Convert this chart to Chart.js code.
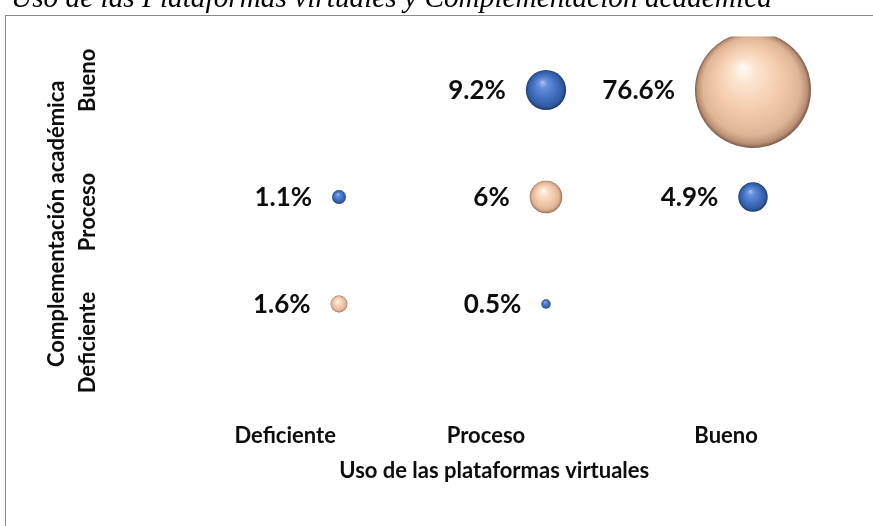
<!DOCTYPE html>
<html><head><meta charset="utf-8">
<script src="https://cdn.jsdelivr.net/npm/chart.js@4/dist/chart.umd.min.js"></script>
<style>html,body{margin:0;padding:0;background:#fff;overflow:hidden}#wrap{width:873px;height:526px;position:relative}</style>
</head><body><div id="wrap"><canvas id="c" width="873" height="526"></canvas></div>
<script>
const chartTitle = 'Uso de las Plataformas virtuales y Complementación académica';
const xAxisTitle = 'Uso de las plataformas virtuales';
const yAxisTitle = 'Complementación académica';
const levels = ['Deficiente', 'Proceso', 'Bueno'];
// where each level's text label sits along its axis (axis units)
const xLabelAt = [0.74, 1.71, 2.87];
const yLabelAt = [0.64, 1.86, 3.09];
// series 1 (blue): x level, y level, percentage
const blueX = [2, 1, 3, 2];
const blueY = [3, 2, 2, 1];
const bluePct = [9.2, 1.1, 4.9, 0.5];
// series 2 (peach)
const peachX = [3, 2, 1];
const peachY = [3, 2, 1];
const peachPct = [76.6, 6, 1.6];

const FONT = "Lato, 'Open Sans', sans-serif";
Chart.defaults.font.family = FONT;
const R = v => 6.63 * Math.sqrt(v);

function sphere(stops, flat) {
  return (c) => {
    if (!c.raw || !c.chart.chartArea) return flat;
    const ch = c.chart, sx = ch.scales.x, sy = ch.scales.y;
    if (!sx || !sy) return flat;
    const px = sx.getPixelForValue(c.raw.x), py = sy.getPixelForValue(c.raw.y);
    const r = R(c.raw.v);
    if (!isFinite(px) || !isFinite(py) || !isFinite(r)) return flat;
    const g = ch.ctx.createRadialGradient(px - 0.18 * r, py - 0.4 * r, 0, px, py, r);
    stops.forEach(([o, col]) => g.addColorStop(o, col));
    return g;
  };
}
const blueStops = [[0, '#A9C3EE'], [0.22, '#6590DA'], [0.6, '#4170C2'], [0.88, '#30599F'], [1, '#1E3766']];
const peachStops = [[0, '#FFFDF6'], [0.2, '#FCE5D0'], [0.55, '#F3CBAC'], [0.84, '#E0B596'], [0.95, '#B88E74'], [1, '#7A5A48']];

const mk = (xs, ys, ps) => xs.map((x, i) => ({ x, y: ys[i], v: ps[i] }));

const frame = {
  id: 'frame',
  beforeDraw(chart) {
    const ctx = chart.ctx;
    ctx.save();
    ctx.fillStyle = '#fff';
    ctx.fillRect(0, 0, chart.width, chart.height);
    ctx.strokeStyle = '#8a8a8a';
    ctx.lineWidth = 1;
    ctx.strokeRect(5.5, 15.5, 1000, 1000);
    ctx.restore();
  }
};
const pctLabels = {
  id: 'pctLabels',
  afterDatasetsDraw(chart) {
    const ctx = chart.ctx;
    ctx.save();
    ctx.font = 'bold 26px ' + FONT;
    ctx.fillStyle = '#0d0d0d';
    ctx.textAlign = 'right';
    ctx.textBaseline = 'middle';
    chart.data.datasets.forEach((ds, di) => {
      chart.getDatasetMeta(di).data.forEach((el, i) => {
        ctx.fillText(ds.data[i].v + '%', el.x - el.options.radius - 20, el.y + 1);
      });
    });
    ctx.restore();
  }
};

new Chart(document.getElementById('c'), {
  type: 'bubble',
  data: {
    datasets: [
      { label: 'Serie 1', data: mk(blueX, blueY, bluePct), backgroundColor: sphere(blueStops, '#416FC2'), borderWidth: 0, radius: c => c.raw ? R(c.raw.v) : 3 },
      { label: 'Serie 2', data: mk(peachX, peachY, peachPct), backgroundColor: sphere(peachStops, '#F3CBAC'), borderWidth: 0, radius: c => c.raw ? R(c.raw.v) : 3 }
    ]
  },
  options: {
    responsive: false, animation: false, events: [],
    layout: { padding: { left: 11, right: 16.5, top: 0, bottom: 38.5 }, autoPadding: false },
    plugins: {
      legend: { display: false }, tooltip: { enabled: false },
      title: {
        display: true, text: chartTitle, align: 'start', color: '#000',
        font: { family: "'Liberation Serif', 'DejaVu Serif', serif", size: 29.3, style: 'italic', weight: 'normal', lineHeight: 1 },
        padding: { top: -15.65, bottom: 22.85 }
      }
    },
    scales: {
      x: {
        type: 'linear', min: 0, max: 3.5,
        grid: { display: false, drawTicks: false }, border: { display: false },
        afterBuildTicks: s => { s.ticks = xLabelAt.map(v => ({ value: v })); },
        afterFit: s => { s.height = 76.5; s.paddingLeft = 0; s.paddingRight = 0; },
        ticks: { autoSkip: false, maxRotation: 0, minRotation: 0, padding: 12, color: '#0d0d0d', font: { size: 22, weight: 'bold' }, callback: (v, i) => levels[i] },
        title: { display: true, text: xAxisTitle, color: '#0d0d0d', font: { size: 22, weight: 'bold', lineHeight: 1.2 }, padding: { top: 0, bottom: 3.3 } }
      },
      y: {
        type: 'linear', min: 0, max: 3.5,
        grid: { display: false, drawTicks: false }, border: { display: false },
        afterBuildTicks: s => { s.ticks = yLabelAt.map(v => ({ value: v })); },
        afterFit: s => { s.width = 121; s.paddingTop = 0; s.paddingBottom = 0; },
        ticks: { autoSkip: false, minRotation: 90, maxRotation: 90, crossAlign: 'center', padding: -6.5, color: '#0d0d0d', font: { size: 22, weight: 'bold' }, callback: (v, i) => levels[i] },
        title: { display: true, text: yAxisTitle, color: '#0d0d0d', font: { size: 22, weight: 'bold', lineHeight: 1.2 }, padding: { top: 32.6, bottom: 0 } }
      }
    }
  },
  plugins: [frame, pctLabels]
});
</script>
</body></html>
